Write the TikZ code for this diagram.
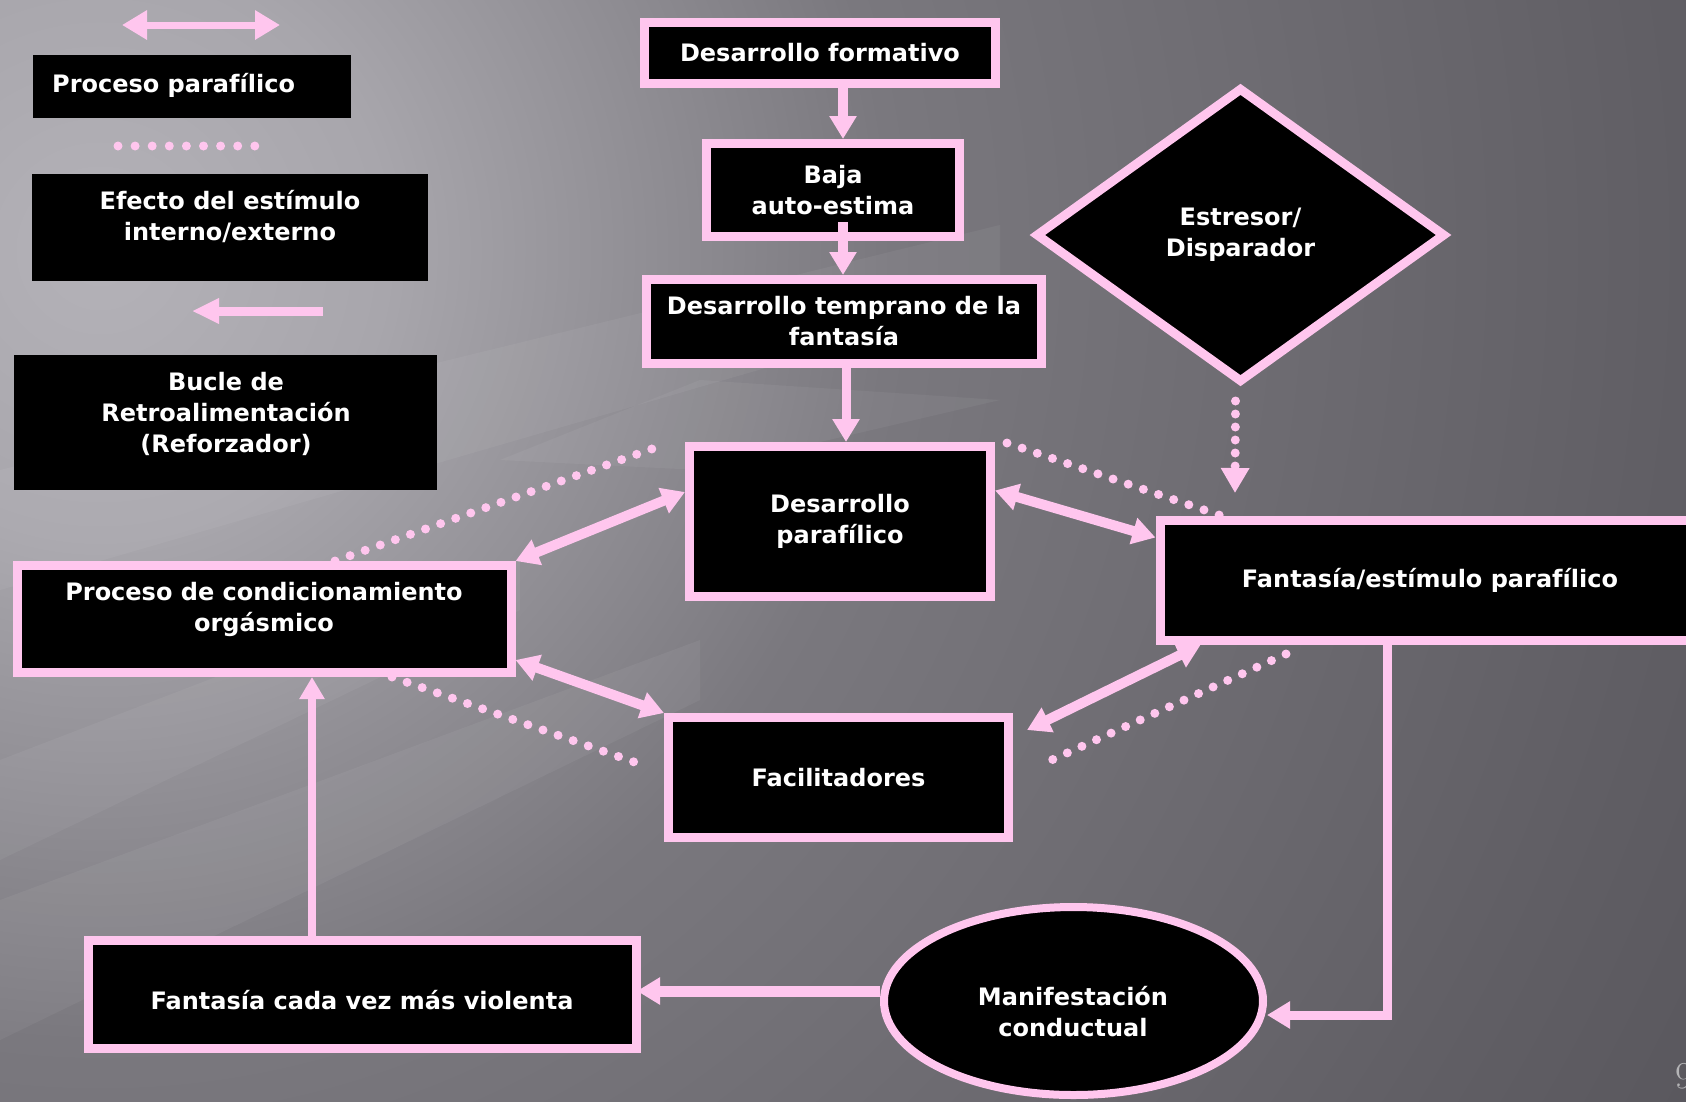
\documentclass[tikz,border=0pt]{standalone}
\usepackage{fontspec}
\newfontfamily\lab{DejaVu Sans}
\usetikzlibrary{arrows.meta,shapes.geometric,calc}

\definecolor{pinkline}{HTML}{FFC6EE}
\definecolor{bgA}{HTML}{B4B2B8}
\definecolor{bgB}{HTML}{A8A6AC}
\definecolor{bgC}{HTML}{7A787E}
\definecolor{bgD}{HTML}{605E64}
\definecolor{bgE}{HTML}{5A585E}
\definecolor{pagenum}{HTML}{B4B4B6}

% glow of the backdrop; the inner 25bp radius is what fills the circle
\pgfdeclareradialshading{bgglow}{\pgfpoint{0bp}{0bp}}{%
  color(0bp)=(bgA); color(4bp)=(bgB); color(11bp)=(bgC);
  color(22bp)=(bgD); color(25bp)=(bgE); color(50bp)=(bgE)}

\tikzset{
  box/.style={draw=pinkline, line width=9pt, fill=black, inner sep=0pt},
  legbox/.style={fill=black, inner sep=0pt},
  txt/.style={text=white, font=\lab\bfseries\fontsize{24}{31}\selectfont,
    align=center, inner sep=0pt},
  tipA/.tip={Triangle[width=26pt,length=23pt]},
  arr/.style={draw=pinkline, line width=10pt, -tipA},
  dbl/.style={draw=pinkline, line width=10pt, tipA-tipA},
  dots/.style={draw=pinkline, line width=9pt, line cap=round,
    dash pattern=on 0pt off 16pt},
  streak/.style={fill=white, opacity=0.05},
}

\begin{document}
\begin{tikzpicture}[x=1pt, y=-1pt]
\useasboundingbox (0,0) rectangle (1686,1101);
\clip (0,0) rectangle (1686,1101);

% backdrop
\fill[bgE] (0,0) rectangle (1686,1101);
\shade[shading=bgglow] (100,250) circle (1800);
\fill[streak] (0,470) -- (0,590) -- (1000,300) -- (1000,225) -- cycle;
\fill[streak] (0,760) -- (0,860) -- (520,610) -- (520,560) -- cycle;
\fill[streak] (0,900) -- (0,1040) -- (700,700) -- (700,640) -- cycle;
\fill[streak] (500,460) -- (700,380) -- (1000,400) -- (700,470) -- cycle;

% ---------- legend ----------
\coordinate (lgA) at (122,25);
\coordinate (lgB) at (280,25);
\draw[draw=pinkline, line width=7pt,
  {Triangle[width=28pt,length=25pt]}-{Triangle[width=28pt,length=25pt]}] (lgA) -- (lgB);
\node[legbox, minimum width=318pt, minimum height=63pt] (leg1) at (192,86.5) {};
\node[txt, anchor=base west] (leg1t) at (52,92) {Proceso parafílico};

\coordinate (lgC) at (118,146);
\coordinate (lgD) at (255,146);
\draw[dots, dash pattern=on 0pt off 17.1pt] (lgC) -- (lgD);
\node[legbox, minimum width=396pt, minimum height=107pt] (leg2) at (230,227.5) {};
\node[txt] (leg2t) at (230,217) {Efecto del estímulo\\interno/externo};

\coordinate (lgE) at (323,311);
\coordinate (lgF) at (192,311);
\draw[draw=pinkline, line width=9pt, -{Triangle[width=24pt,length=27pt]}] (lgE) -- (lgF);
\node[legbox, minimum width=423pt, minimum height=135pt] (leg3) at (225.5,422.5) {};
\node[txt] (leg3t) at (226,413.5) {Bucle de\\Retroalimentación\\(Reforzador)};

% ---------- boxes ----------
\node[box, minimum width=351pt, minimum height=61pt, txt] (form) at (820,53) {Desarrollo formativo};
\node[box, minimum width=253pt, minimum height=93pt, txt] (baja) at (833,190) {Baja\\auto-estima};
\node[box, minimum width=395pt, minimum height=84pt, txt] (temp) at (844,321.5) {Desarrollo temprano de la\\fantasía};
\node[box, minimum width=301pt, minimum height=150pt, txt] (dpar) at (840,521.5) {Desarrollo\\parafílico};
\node[box, minimum width=540pt, minimum height=120pt, txt] (fant) at (1430,580.5) {Fantasía/estímulo parafílico};
\node[box, minimum width=494pt, minimum height=107pt] (proc) at (264,619) {};
\node[txt] (proct) at (264,609) {Proceso de condicionamiento\\orgásmico};
\node[box, minimum width=340pt, minimum height=120pt, txt] (faci) at (838.5,777.5) {Facilitadores};
\node[box, minimum width=548pt, minimum height=108pt] (viol) at (362.5,994.5) {};
\node[txt] (violt) at (362,1000) {Fantasía cada vez más violenta};
\node[draw=pinkline, line width=8pt, fill=black, ellipse, inner sep=0pt,
  minimum width=379pt, minimum height=188pt] (manif) at (1073.5,1001) {};
\node[txt] (manift) at (1073,1012) {Manifestación\\conductual};
\node[draw=pinkline, line width=9pt, fill=black, diamond, inner sep=0pt,
  minimum width=410pt, minimum height=295pt, txt] (stress) at (1240.5,235) {Estresor/\\Disparador};

% ---------- main chain ----------
\draw[arr] ([xshift=23pt]form.south) -- ([xshift=10pt]baja.north);
\draw[arr] ([xshift=10pt,yshift=19pt]baja.south) -- ([xshift=-1pt]temp.north);
\draw[arr, line width=9pt] ([xshift=2pt]temp.south) -- ([xshift=6pt]dpar.north);

% ---------- two-way links ----------
\draw[dbl] ([yshift=29.5pt]dpar.west) -- (proc.north east);
\draw[dbl] ([yshift=31pt]dpar.east) -- ([yshift=43pt]fant.west);
\draw[dbl] ([yshift=17pt]proc.south east) -- (faci.north west);
\draw[dbl] ([xshift=45pt]fant.south west) -- ([xshift=14pt,yshift=-17pt]faci.north east);

% ---------- stimulus effects ----------
\coordinate (d1) at (663,445);
\coordinate (d2) at (1007,443);
\coordinate (d3) at (637,763);
\coordinate (d4a) at (1286,654);
\coordinate (d4b) at (1045,763);
\coordinate (st) at (1235,493);
\draw[dots] ([xshift=71pt]proc.north) -- (d1);
\draw[dots] (d2) -- ([xshift=-208pt]fant.north);
\draw[dots] ([xshift=128pt]proc.south) -- (d3);
\draw[dots] (d4a) -- (d4b);
\draw[dots, dash pattern=on 0pt off 13pt, -{Triangle[width=27pt,length=25pt]}]
  ([xshift=-5pt,yshift=-14pt]stress.south) -- (st);

% ---------- feedback loop ----------
\draw[arr, line width=9pt] ([xshift=-43pt]fant.south) |- ([yshift=-14pt]manif.east);
\draw[arr, line width=11pt, shorten >=-4pt] ([yshift=10pt]manif.west) -- ([yshift=3.5pt]viol.east);
\draw[draw=pinkline, line width=8pt, -{Triangle[width=24pt,length=22pt]}]
  ([xshift=-50.5pt]viol.north) -- ([xshift=48pt]proc.south);

% page number
\node[text=pagenum, font=\fontsize{38}{40}\selectfont, anchor=base west, inner sep=0pt] (pg) at (1675,1088) {9};
\end{tikzpicture}
\end{document}
